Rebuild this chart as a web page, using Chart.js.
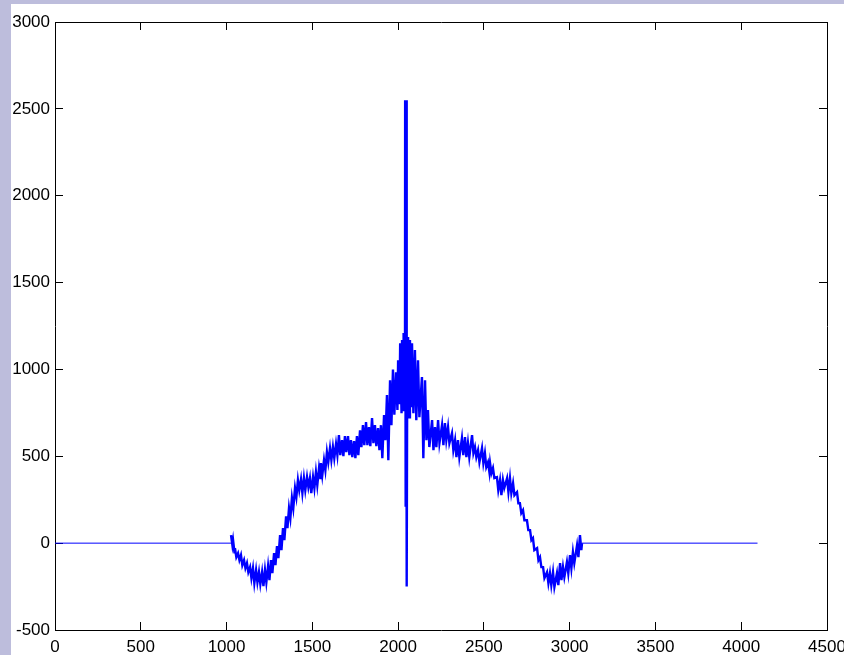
<!DOCTYPE html>
<html>
<head>
<meta charset="utf-8">
<script src="https://cdn.jsdelivr.net/npm/chart.js@4.4.0/dist/chart.umd.min.js"></script>
<style>
  html, body { margin: 0; padding: 0; background: #bdbddc; overflow: hidden; }
  #frame { position: absolute; left: 11px; top: 4px; width: 833px; height: 651px; background: #fff; }
  #myChart { position: absolute; left: 0; top: 0; }
</style>
</head>
<body>
<div id="frame"></div>
<canvas id="myChart" width="844" height="655"></canvas>
<script>
// tick labels
const xTicks = [0, 500, 1000, 1500, 2000, 2500, 3000, 3500, 4000, 4500];
const yTicks = [-500, 0, 500, 1000, 1500, 2000, 2500, 3000];

// flat zero parts at both ends
const flatLeftX = [0, 1026];
const flatRightX = [3072, 4095];
const flatY = [0, 0];

// noisy band: sample position, upper and lower edge
const bandX = [1026, 1038, 1049, 1067, 1084, 1102, 1119, 1137, 1154, 1172, 1189, 1207, 1224, 1242, 1259, 1277, 1294, 1312, 1329, 1347,
  1364, 1381, 1399, 1416, 1434, 1451, 1469, 1486, 1504, 1521, 1539, 1550, 1568, 1585, 1603, 1620, 1638, 1655, 1673, 1690,
  1708, 1725, 1743, 1760, 1778, 1795, 1813, 1830, 1848, 1865, 1883, 1900, 1918, 1935, 1953, 1970, 1988, 2000, 2012, 2023, 2032,
  2058, 2069, 2081, 2098, 2116, 2139, 2157, 2174, 2198, 2215, 2233, 2256, 2273, 2291, 2314, 2332, 2349, 2372, 2390, 2407,
  2431, 2448, 2466, 2489, 2506, 2524, 2536, 2553, 2576, 2594, 2611, 2635, 2652, 2670, 2693, 2710, 2728, 2751, 2769, 2786,
  2810, 2827, 2845, 2868, 2885, 2903, 2926, 2944, 2961, 2984, 3002, 3019, 3043, 3060];
const bandHigh = [46, 17, -29, -58, -69, -98, -115, -138, -144, -155, -167, -167, -155, -132, -98, -58, -17, 46, 86, 155,
  201, 259, 317, 363, 368, 374, 380, 374, 380, 409, 432, 461, 478, 524, 547, 553, 570, 622, 593, 616,
  616, 593, 587, 616, 650, 679, 697, 668, 720, 679, 662, 679, 737, 852, 938, 1000, 984, 1053, 1151, 1169, 1209,
  1186, 1169, 1151, 1111, 1053, 956, 938, 766, 708, 668, 708, 679, 691, 668, 633, 593, 593, 604, 610, 576,
  622, 553, 535, 547, 518, 466, 461, 432, 380, 363, 363, 374, 374, 345, 294, 230, 190, 132, 75, 29,
  -29, -81, -138, -167, -173, -167, -173, -115, -138, -109, -69, -52, -12, 46];
const bandLow = [-12, -52, -81, -98, -127, -144, -167, -201, -230, -225, -236, -248, -225, -213, -173, -127, -86, -40, 17, 86,
  144, 201, 265, 305, 288, 305, 322, 288, 317, 334, 374, 391, 420, 466, 478, 489, 507, 507, 501, 524,
  507, 495, 489, 507, 553, 564, 564, 558, 576, 558, 535, 489, 593, 478, 679, 740, 766, 800, 748, 766, 766,
  725, 783, 748, 708, 725, 489, 593, 553, 535, 553, 576, 564, 593, 576, 535, 495, 495, 507, 495, 495,
  518, 495, 466, 461, 438, 409, 403, 374, 305, 276, 317, 294, 288, 276, 230, 173, 132, 75, 17, -40,
  -98, -138, -201, -230, -242, -253, -242, -213, -196, -173, -144, -115, -81, -40];

// central spike
const spikeX = [2041, 2044, 2047, 2050, 2053];
const spikeY = [2550, 210, 2550, -250, 950];

let flatLeft = flatLeftX.map((x, i) => ({ x: x, y: flatY[i] }));
let flatRight = flatRightX.map((x, i) => ({ x: x, y: flatY[i] }));
let band = [];
bandX.forEach((x, i) => {
  band.push({ x: x, y: bandHigh[i] });
  band.push({ x: x + 8, y: bandLow[i] });
});
spikeX.forEach((x, i) => band.push({ x: x, y: spikeY[i] }));
band.push({ x: 3072, y: 0 });
band.sort((a, b) => a.x - b.x);

const tickFont = { family: "'Liberation Sans', Helvetica, Arial, sans-serif", size: 17 };

function makeAxis(pos, min, max, list, size, showLabels, pad) {
  return {
    type: 'linear',
    position: pos,
    min: min,
    max: max,
    afterBuildTicks: (s) => { s.ticks = list.map(v => ({ value: v })); },
    afterFit: (s) => {
      if (pos === 'top' || pos === 'bottom') s.height = size; else s.width = size;
      s.paddingLeft = 0; s.paddingRight = 0; s.paddingTop = 0; s.paddingBottom = 0;
    },
    ticks: {
      display: showLabels,
      font: tickFont,
      color: '#000',
      padding: pad,
      autoSkip: false,
      maxRotation: 0,
      callback: (v) => String(v)
    },
    grid: { drawOnChartArea: false, tickLength: -8, color: '#000', lineWidth: 1 },
    border: { color: '#000', width: 1 }
  };
}

function lineSet(pts, w) {
  return {
    data: pts,
    xAxisID: 'x',
    yAxisID: 'y',
    borderColor: '#0000ff',
    borderWidth: w,
    pointRadius: 0,
    tension: 0,
    fill: false
  };
}

var ctx = document.getElementById("myChart").getContext("2d");
var myChart = new Chart(ctx, {
  type: 'line',
  data: {
    datasets: [lineSet(flatLeft, 1), lineSet(band, 2.4), lineSet(flatRight, 1)]
  },
  options: {
    responsive: false,
    animation: false,
    layout: { padding: 0 },
    plugins: { legend: { display: false }, tooltip: { enabled: false } },
    scales: {
      x: makeAxis('bottom', 0, 4500, xTicks, 25, true, 15),
      x2: makeAxis('top', 0, 4500, xTicks, 22, false, 0),
      y: makeAxis('left', -500, 3000, yTicks, 55, true, 13),
      y2: makeAxis('right', -500, 3000, yTicks, 17, false, 0)
    }
  }
});
</script>
</body>
</html>
